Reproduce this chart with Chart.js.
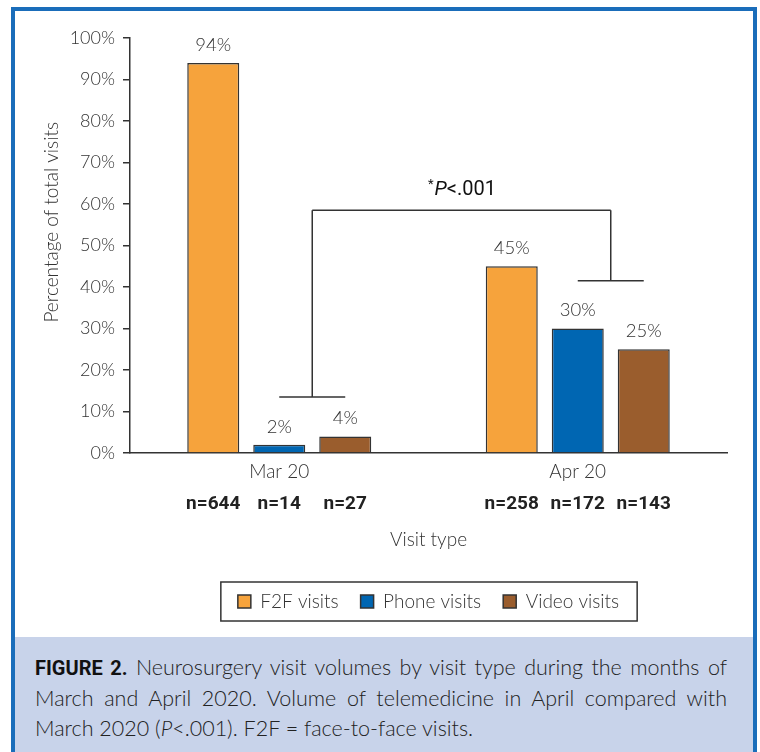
<!DOCTYPE html>
<html><head><meta charset="utf-8">
<script src="https://cdn.jsdelivr.net/npm/chart.js@4.4.1/dist/chart.umd.min.js"></script>
<style>
html,body{margin:0;padding:0;background:#fff;width:760px;height:752px;overflow:hidden;}
#wrap{position:absolute;left:0;top:0;width:760px;height:752px;}
#cv{position:absolute;left:0;top:0;}
.b{position:absolute;background:#1a6dba;}
#cap{position:absolute;left:15px;top:637px;width:738px;height:115px;background:#c8d3ea;box-sizing:border-box;padding:15px 26px 0 20px;font-family:Lato,sans-serif;font-weight:300;font-size:21.5px;line-height:30px;color:#222;}
#cap div{text-align:justify;text-align-last:justify;}
#cap div.last{text-align-last:left;}
#cap b{font-family:Roboto,sans-serif;font-weight:700;font-size:20px;color:#111;}
</style></head>
<body>
<div id="wrap">
<canvas id="cv" width="760" height="637"></canvas>
<div id="cap">
<div><b>FIGURE 2.</b> Neurosurgery visit volumes by visit type during the months of</div>
<div>March and April 2020. Volume of telemedicine in April compared with</div>
<div class="last">March 2020 (<i>P</i>&lt;.001). F2F = face-to-face visits.</div>
</div>
<div class="b" style="left:11px;top:7px;width:746px;height:4px"></div>
<div class="b" style="left:11px;top:7px;width:4px;height:745px"></div>
<div class="b" style="left:753px;top:7px;width:4px;height:745px"></div>
</div>
<script>
const categories = ['Mar 20', 'Apr 20'];
const seriesNames = ['F2F visits', 'Phone visits', 'Video visits'];
const f2fPct = [94, 45];
const phonePct = [2, 30];
const videoPct = [4, 25];
const f2fN = [644, 258];
const phoneN = [14, 172];
const videoN = [27, 143];
const yTickValues = [0, 10, 20, 30, 40, 50, 60, 70, 80, 90, 100];
const bracketBase = [13.5, 41.5];
const bracketTop = 58.5;
const pValueText = ['*', 'P', '<.001'];

const nCounts = [f2fN, phoneN, videoN];
const LIGHT = 'Lato, sans-serif';

const annot = {
  id: 'annot',
  afterDatasetsDraw(chart) {
    const ctx = chart.ctx;
    const y = chart.scales.y;
    const x = chart.scales.x;
    ctx.save();
    ctx.textAlign = 'center';
    ctx.textBaseline = 'middle';
    chart.data.datasets.forEach((ds, di) => {
      const meta = chart.getDatasetMeta(di);
      meta.data.forEach((bar, i) => {
        ctx.font = '300 18.5px ' + LIGHT;
        ctx.fillStyle = '#333';
        ctx.fillText(ds.data[i] + '%', bar.x, bar.y - 18);
        ctx.font = '700 19px Roboto, sans-serif';
        ctx.fillStyle = '#222';
        ctx.fillText('n=' + nCounts[di][i], bar.x, x.top + 51);
      });
    });
    // significance bracket
    const ph = chart.getDatasetMeta(1).data, vd = chart.getDatasetMeta(2).data;
    const yTop = y.getPixelForValue(bracketTop);
    const mids = [0, 1].map(i => (ph[i].x + vd[i].x) / 2);
    ctx.strokeStyle = '#333';
    ctx.lineWidth = 1.5;
    ctx.beginPath();
    for (let i = 0; i < 2; i++) {
      const yb = y.getPixelForValue(bracketBase[i]);
      ctx.moveTo(ph[i].x, yb); ctx.lineTo(vd[i].x, yb);
      ctx.moveTo(mids[i], yb); ctx.lineTo(mids[i], yTop);
    }
    ctx.moveTo(mids[0], yTop); ctx.lineTo(mids[1], yTop);
    ctx.stroke();
    // P value text
    const fonts = ['400 13px Roboto, sans-serif', 'italic 400 20px Roboto, sans-serif', '400 20px Roboto, sans-serif'];
    const widths = pValueText.map((t, k) => { ctx.font = fonts[k]; return ctx.measureText(t).width; });
    const total = widths.reduce((a, b) => a + b, 0);
    let cx = (mids[0] + mids[1]) / 2 - total / 2;
    const ty = yTop - 20;
    ctx.textAlign = 'left';
    ctx.fillStyle = '#111';
    pValueText.forEach((t, k) => {
      ctx.font = fonts[k];
      ctx.fillText(t, cx, k === 0 ? ty - 5 : ty);
      cx += widths[k] + (k === 0 ? 1 : 0);
    });
    ctx.restore();
  },
  afterDraw(chart) {
    const lg = chart.legend;
    const hb = lg.legendHitBoxes;
    if (!hb || !hb.length) return;
    const ctx = chart.ctx;
    const l = hb[0].left - 17;
    const last = hb[hb.length - 1];
    const r = last.left + last.width + 18;
    const cy = hb[0].top + hb[0].height / 2;
    ctx.save();
    ctx.strokeStyle = '#333';
    ctx.lineWidth = 1.5;
    ctx.strokeRect(l, cy - 19.5, r - l, 39);
    ctx.restore();
  }
};

const axisFont = (size) => ({ family: LIGHT, size: size, weight: '300' });

new Chart(document.getElementById('cv'), {
  type: 'bar',
  data: {
    labels: categories,
    datasets: [
      { label: seriesNames[0], data: f2fPct, backgroundColor: '#f6a33c', borderColor: '#333', borderWidth: 1.5 },
      { label: seriesNames[1], data: phonePct, backgroundColor: '#0066b2', borderColor: '#333', borderWidth: 1.5 },
      { label: seriesNames[2], data: videoPct, backgroundColor: '#9a5d2d', borderColor: '#333', borderWidth: 1.5 }
    ]
  },
  options: {
    responsive: false,
    animation: false,
    devicePixelRatio: 1,
    layout: { padding: { left: 0, right: 33, top: 38, bottom: 16 } },
    datasets: { bar: { categoryPercentage: 0.6633, barPercentage: 0.788 } },
    scales: {
      x: {
        grid: { display: false, drawTicks: false },
        border: { display: true, color: '#333', width: 1.5 },
        ticks: { font: axisFont(19), color: '#333', padding: 7 },
        title: { display: true, text: 'Visit type', font: axisFont(19), color: '#333', padding: { top: 0, bottom: 18.6 } },
        afterFit: s => { s.height = 117; }
      },
      y: {
        min: 0, max: 100,
        afterBuildTicks: s => { s.ticks = yTickValues.map(v => ({ value: v })); },
        ticks: { font: axisFont(18), color: '#333', padding: 8, callback: v => v + '%' },
        grid: { drawOnChartArea: false, drawTicks: true, tickLength: 7, color: '#333', lineWidth: 1.5 },
        border: { display: true, color: '#333', width: 1.5 },
        title: { display: true, text: '         Percentage of total visits', font: axisFont(19), color: '#333', padding: { top: 40.6, bottom: 0 } },
        afterFit: s => { s.width = 130; }
      }
    },
    plugins: {
      legend: {
        position: 'bottom', fullSize: false,
        labels: { boxWidth: 13, boxHeight: 13, padding: 22, font: axisFont(19), color: '#333' }
      },
      tooltip: { enabled: false }
    }
  },
  plugins: [annot]
});
</script>
</body></html>
